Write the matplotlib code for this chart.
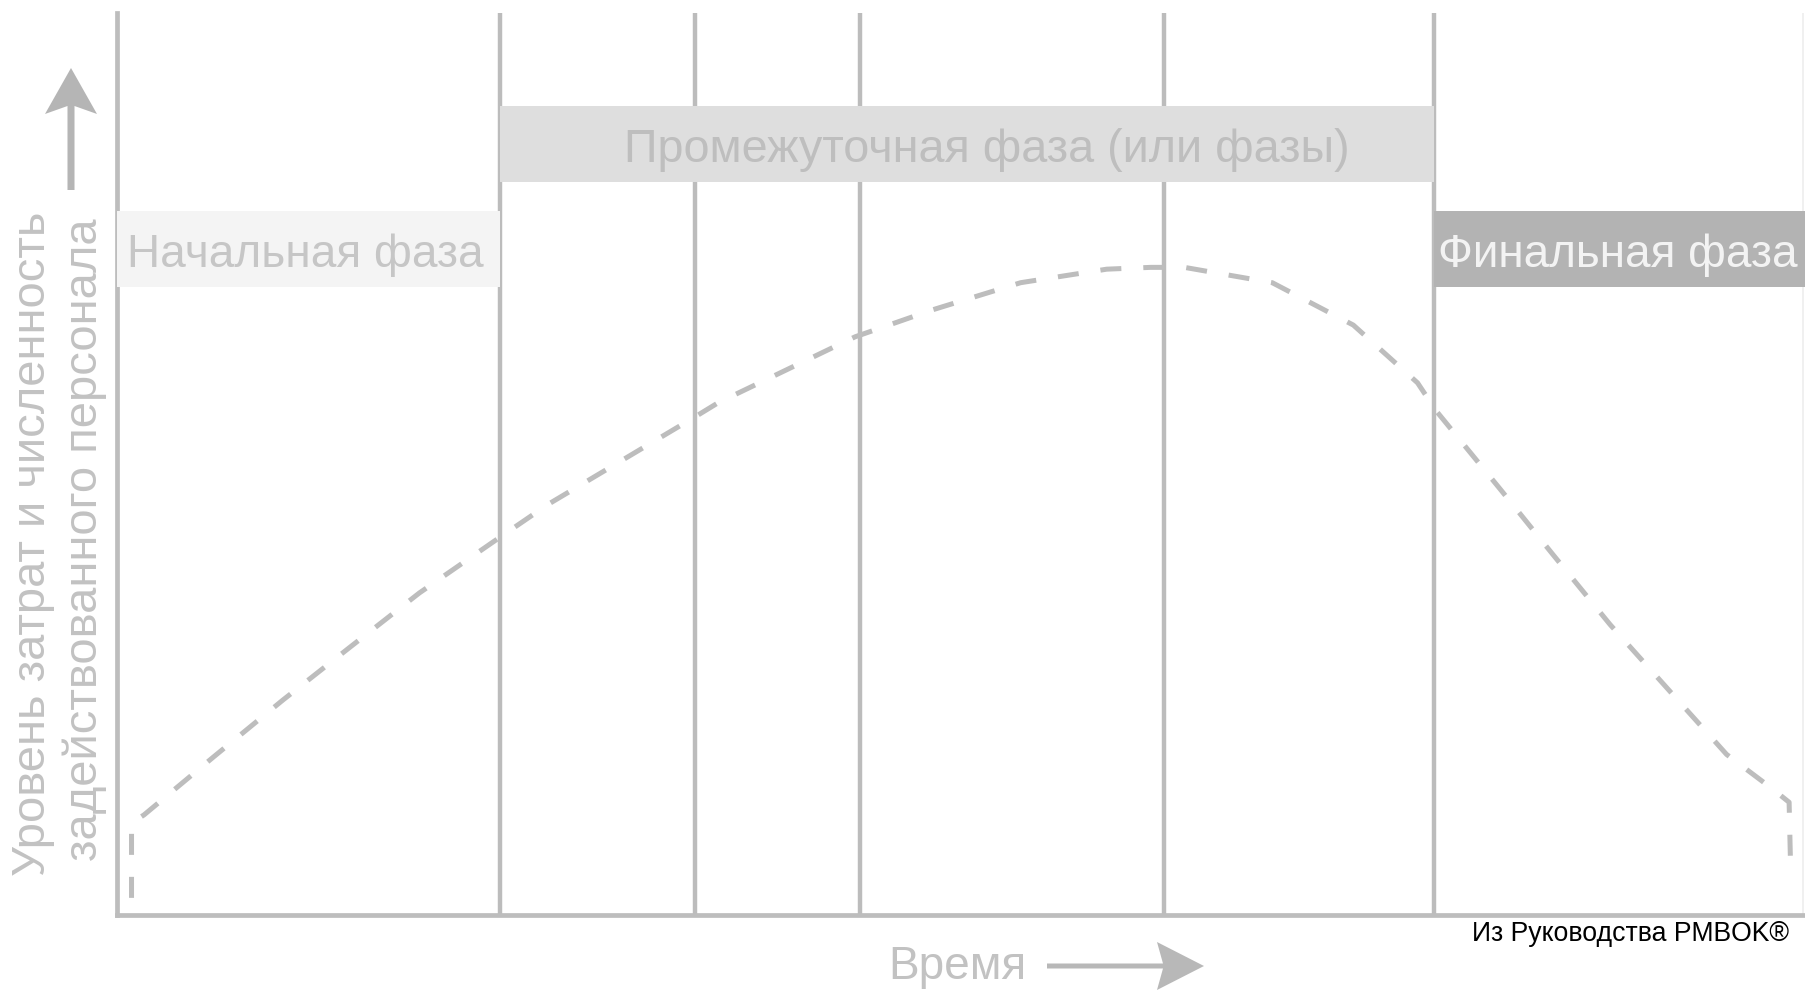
import matplotlib
matplotlib.use("Agg")
import matplotlib.pyplot as plt
from matplotlib.patches import Rectangle, Polygon

plt.rcParams["font.family"] = ["Liberation Sans", "DejaVu Sans"]

# ---------------- data ----------------
# Project phases along the time axis (time runs 0..100)
phase_names = ["Начальная фаза", "Промежуточная фаза (или фазы)", "Финальная фаза"]
phase_start = [0.0, 22.7, 78.0]
phase_end = [22.7, 78.0, 100.0]
phase_lines = [22.7, 34.2, 44.0, 62.0, 78.0]

# Typical cost and staffing level over the project life cycle (0..100)
time = [0.86, 0.86, 0.95, 1.6, 5.7, 9.8, 13.8, 17.9, 22.3, 25.5, 34.2, 35.6,
        43.7, 48.3, 53.5, 58.6, 61.2, 63.2, 68.4, 73.2, 77.0, 78.1, 81.9,
        85.0, 88.4, 91.8, 95.3, 98.0, 99.0, 99.1]
level = [1.9, 9.1, 10.3, 11.1, 17.5, 23.8, 29.7, 35.7, 41.4, 45.5, 55.2, 56.8,
         64.1, 67.1, 70.1, 71.6, 71.8, 71.8, 70.1, 65.4, 59.0, 55.9, 47.2,
         40.0, 32.2, 25.1, 17.8, 14.0, 12.5, 4.3]

y_label_lines = ["Уровень затрат и численность", "задействованного персонала"]
x_label = "Время"
source_note = "Из Руководства PMBOK®"

# ---------------- layout ----------------
W, H = 1806, 991
fig = plt.figure(figsize=(W / 100, H / 100), dpi=100, facecolor="white")

# pixel-space layer for the axis captions and arrows
deco = fig.add_axes([0, 0, 1, 1])
deco.set_xlim(0, W)
deco.set_ylim(H, 0)
deco.axis("off")

left_px, right_px, top_px, bottom_px = 117, W, 13, 915
ax = fig.add_axes([left_px / W, 1 - bottom_px / H,
                   (right_px - left_px) / W, (bottom_px - top_px) / H])
ax.set_xlim(0, 100)
ax.set_ylim(0, 100)
ax.set_xticks([])
ax.set_yticks([])
for side in ("top", "right"):
    ax.spines[side].set_visible(False)
for side in ("left", "bottom"):
    ax.spines[side].set_color("#bdbdbd")
    ax.spines[side].set_linewidth(3.4)
    ax.spines[side].set_zorder(1)

line_grey = "#bcbcbc"

# phase dividers
ax.vlines(phase_lines, 0, 100, color=line_grey, lw=3.2, zorder=1)
ax.axvline(99.8, color="#eeeeee", lw=1.2, zorder=0.5)

# phase banners
band_rows = [(69.6, 78.1), (81.3, 89.7), (69.6, 78.1)]
band_face = ["#f4f4f4", "#dedede", "#b3b3b3"]
band_text = ["#c6c6c6", "#bebebe", "#f3f3f3"]
text_anchor = [(0.6, "left"), (51.5, "center"), (78.2, "left")]
text_width = [357, 726, 360]

renderer = fig.canvas.get_renderer()


def fit_width(txt, target_px, vertical=False):
    bb = txt.get_window_extent(renderer)
    size = bb.height if vertical else bb.width
    txt.set_fontsize(txt.get_fontsize() * target_px / size)


for name, x0, x1, (y0, y1), fc, tc, (tx, ha), tw in zip(
        phase_names, phase_start, phase_end, band_rows, band_face,
        band_text, text_anchor, text_width):
    ax.add_patch(Rectangle((x0, y0), x1 - x0, y1 - y0, facecolor=fc,
                           edgecolor="none", zorder=1.5, clip_on=False))
    t = ax.text(tx, (y0 + y1) / 2 - 0.7, name, ha=ha, va="center", color=tc,
                fontsize=32, zorder=2)
    fit_width(t, tw)

# cost / staffing curve
ax.plot(time, level, color="#bdbdbd", lw=3.6, linestyle=(0, (4.2, 4.4)),
        dash_capstyle="butt", zorder=3, clip_on=False)


def arrow(x0, y0, x1, y1, shaft, head_len, head_w, notch, color):
    """Straight arrow with a slightly swept-back head, in pixel space."""
    dx, dy = x1 - x0, y1 - y0
    length = (dx * dx + dy * dy) ** 0.5
    ux, uy = dx / length, dy / length
    px, py = -uy, ux

    def pt(a, b):
        return (x0 + ux * a + px * b, y0 + uy * a + py * b)

    base = length - head_len
    pts = [pt(0, -shaft / 2), pt(base + notch, -shaft / 2),
           pt(base, -head_w / 2), pt(length, 0), pt(base, head_w / 2),
           pt(base + notch, shaft / 2), pt(0, shaft / 2)]
    deco.add_patch(Polygon(pts, closed=True, facecolor=color,
                           edgecolor="none"))


# vertical axis caption with its arrow
label_color = "#c2c2c2"
l1 = deco.text(33, 544, y_label_lines[0], rotation=90, ha="center",
               va="center", color=label_color, fontsize=32)
fit_width(l1, 665, vertical=True)
l2 = deco.text(85, 540, y_label_lines[1], rotation=90, ha="center",
               va="center", color=label_color, fontsize=l1.get_fontsize())
arrow(71, 190, 71, 68, shaft=7, head_len=46, head_w=52, notch=8,
      color="#b5b5b5")

# horizontal axis caption with its arrow
tx = deco.text(957, 967, x_label, ha="center", va="center",
               color=label_color, fontsize=30)
fit_width(tx, 138)
arrow(1047, 966, 1204, 966, shaft=5, head_len=47, head_w=48, notch=6,
      color="#b8b8b8")

# source note
src = deco.text(1789, 934, source_note, ha="right", va="center",
                color="black", fontsize=19)
fit_width(src, 317)

fig.savefig("out.png", dpi=100, facecolor="white")
